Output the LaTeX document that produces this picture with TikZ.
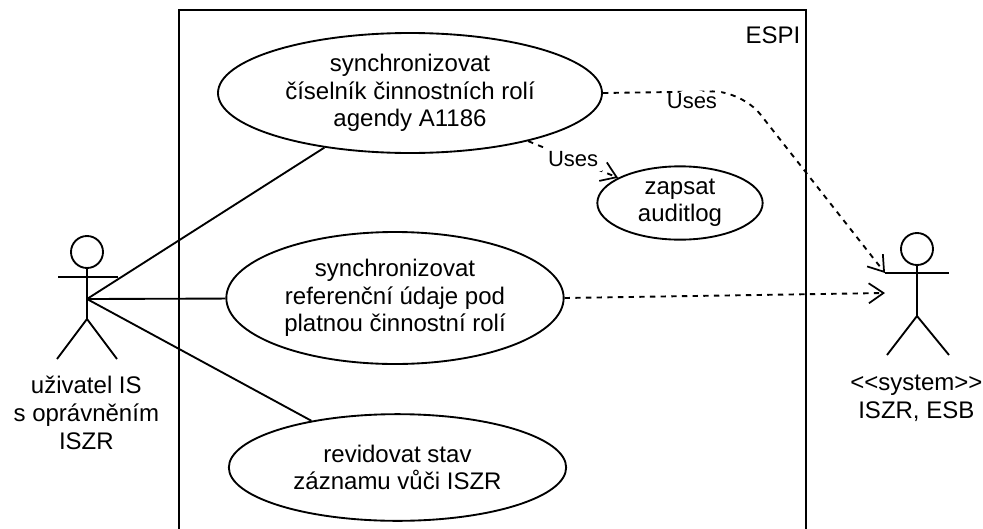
\documentclass[tikz,border=0pt]{standalone}
\usepackage{fontspec}
\setmainfont{Liberation Sans}
\usetikzlibrary{positioning,shapes.geometric,arrows.meta}

\begin{document}
\begin{tikzpicture}[x=0.75pt, y=-0.75pt, node distance=6pt, line width=1.4pt,
>={Straight Barb[length=11pt,width=15pt,line width=1.3pt]},
main node/.style={ellipse,draw,inner sep=0pt,align=center,font=\fontsize{18}{20.5}\selectfont},
actor text/.style={align=center,inner sep=0pt,font=\fontsize{18}{21}\selectfont},
uses label/.style={fill=white,inner sep=3pt,font=\fontsize{16.5}{20}\selectfont},
uses/.style={->,dash pattern=on 4pt off 4pt}]

\useasboundingbox (0,0) rectangle (983,529);

\draw (179,529) -- (179,10) -- (806,10) -- (806,529);
\node[font=\fontsize{18}{21}\selectfont, inner sep=0pt] (espi) at (773,35) {ESPI};

\node[main node, minimum width=288pt, minimum height=90pt] (A) at (410,93)
  {synchronizovat\\číselník činnostních rolí\\agendy A1186};
\node[main node, minimum width=253pt, minimum height=99pt] (B) at (395,298)
  {synchronizovat\\referenční údaje pod\\platnou činnostní rolí};
\node[main node, minimum width=253pt, minimum height=80pt] (C) at (397.5,467.5)
  {revidovat stav\\záznamu vůči ISZR};
\node[main node, minimum width=124pt, minimum height=55pt] (D) at (680,203)
  {zapsat\\auditlog};

% actor on the left
\node[circle,draw,inner sep=0pt,minimum size=24pt] (userhead) at (87,252) {};
\coordinate (userarmL) at (58,277);
\coordinate (userarmR) at (118,277);
\coordinate (userjoint) at (87,299);
\coordinate (userhip) at (87,319);
\coordinate (userfootL) at (57,359);
\coordinate (userfootR) at (117,359);
\draw (userhead) -- (userhip);
\draw (userarmL) -- (userarmR);
\draw (userfootL) -- (userhip) -- (userfootR);
\node[actor text] (usertext) [below=12pt of userfootL, xshift=22pt] {uživatel IS\\s oprávněním\\ISZR};

% actor on the right
\node[circle,draw,inner sep=0pt,minimum size=24pt] (syshead) at (917,249) {};
\coordinate (sysarmL) at (885,273);
\coordinate (sysarmR) at (949,273);
\coordinate (sysarrow) at (885,293);
\coordinate (syship) at (917,316);
\coordinate (sysfootL) at (887,355);
\coordinate (sysfootR) at (949,355);
\draw (syshead) -- (syship);
\draw (sysarmL) -- (sysarmR);
\draw (sysfootL) -- (syship) -- (sysfootR);
\node[actor text] (systext) [below=14pt of sysfootL, xshift=22pt] {{<}{<}system{>}{>}\\ISZR, ESB};

\foreach \x in {A,B,C}
\draw (userjoint) -- (\x);

\coordinate (usescorner) at (742,91);
\draw[uses, rounded corners=22pt] (A.east) -- node[uses label, pos=0.64, yshift=-7pt] (usesA) {Uses} (usescorner) -- (sysarmL);
\draw[uses] (A) -- node[uses label] (usesD) {Uses} (D);
\draw[uses] (B.east) -- (sysarrow);
\end{tikzpicture}
\end{document}
